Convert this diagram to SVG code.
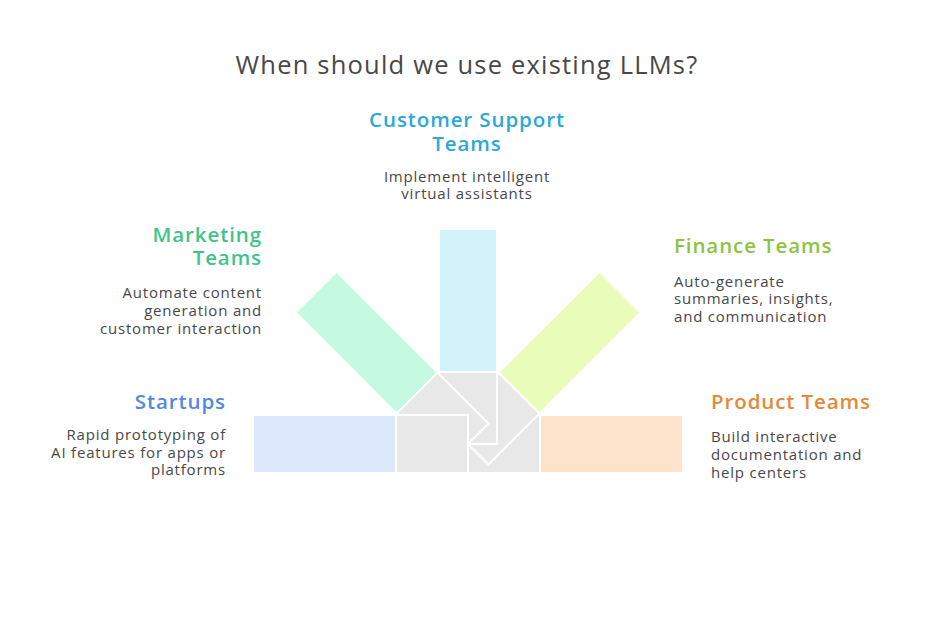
<svg xmlns="http://www.w3.org/2000/svg" width="936" height="636" viewBox="0 0 936 636">
<style>
.arm{stroke:#fff;stroke-width:2}
.core{fill:#e8e8e8;stroke:#fff;stroke-width:2}
.h{font-family:"Open Sans",sans-serif;font-size:20.5px;font-weight:600;letter-spacing:0.9px}
.d{font-family:"Open Sans",sans-serif;font-size:15px;fill:#484848;letter-spacing:0.8px}
.ttl{font-family:"Open Sans",sans-serif;font-size:25.5px;fill:#484848;letter-spacing:1.2px}
</style>
<defs>
<rect id="core" x="396" y="415" width="72" height="58" class="core"/>
</defs>
<rect width="936" height="636" fill="#fff"/>
<text class="ttl" x="467" y="74" text-anchor="middle">When should we use existing LLMs?</text>

<g id="product-teams">
<g transform="rotate(180 468 444)">
<rect x="253" y="415" width="143" height="58" fill="#fde3c9" class="arm"/>
<use href="#core"/>
</g>
<text class="h" x="711" y="409" fill="#e3893a">Product Teams</text>
<text class="d" x="711" y="442"><tspan x="711">Build interactive</tspan><tspan x="711" y="460">documentation and</tspan><tspan x="711" y="478">help centers</tspan></text>
</g>

<g id="finance-teams">
<g transform="rotate(135 468 444)">
<rect x="253" y="415" width="143" height="58" fill="#e9fcb9" class="arm"/>
<use href="#core"/>
</g>
<text class="h" x="674" y="253" fill="#8dc43f">Finance Teams</text>
<text class="d" x="674" y="287"><tspan x="674">Auto-generate</tspan><tspan x="674" y="304">summaries, insights,</tspan><tspan x="674" y="322">and communication</tspan></text>
</g>

<g id="customer-support-teams">
<g transform="rotate(90 468 444)">
<rect x="253" y="415" width="143" height="58" fill="#d3f3fb" class="arm"/>
<use href="#core"/>
</g>
<text class="h" x="467" y="127" fill="#2aa8d8" text-anchor="middle"><tspan x="467">Customer Support</tspan><tspan x="467" y="151">Teams</tspan></text>
<text class="d" x="467" y="182" text-anchor="middle"><tspan x="467">Implement intelligent</tspan><tspan x="467" y="199">virtual assistants</tspan></text>
</g>

<g id="marketing-teams">
<g transform="rotate(45 468 444)">
<rect x="253" y="415" width="143" height="58" fill="#c6f9e2" class="arm"/>
<use href="#core"/>
</g>
<text class="h" x="262" y="242" fill="#3fc48c" text-anchor="end"><tspan x="262">Marketing</tspan><tspan x="262" y="265">Teams</tspan></text>
<text class="d" x="262" y="298" text-anchor="end"><tspan x="262">Automate content</tspan><tspan x="262" y="316">generation and</tspan><tspan x="262" y="334">customer interaction</tspan></text>
</g>

<g id="startups">
<g>
<rect x="253" y="415" width="143" height="58" fill="#dce8fc" class="arm"/>
<use href="#core"/>
</g>
<text class="h" x="226" y="409" fill="#4f89e0" text-anchor="end">Startups</text>
<text class="d" x="226" y="440" text-anchor="end"><tspan x="226">Rapid prototyping of</tspan><tspan x="226" y="458">AI features for apps or</tspan><tspan x="226" y="475">platforms</tspan></text>
</g>

<g id="connectors"></g>
</svg>
